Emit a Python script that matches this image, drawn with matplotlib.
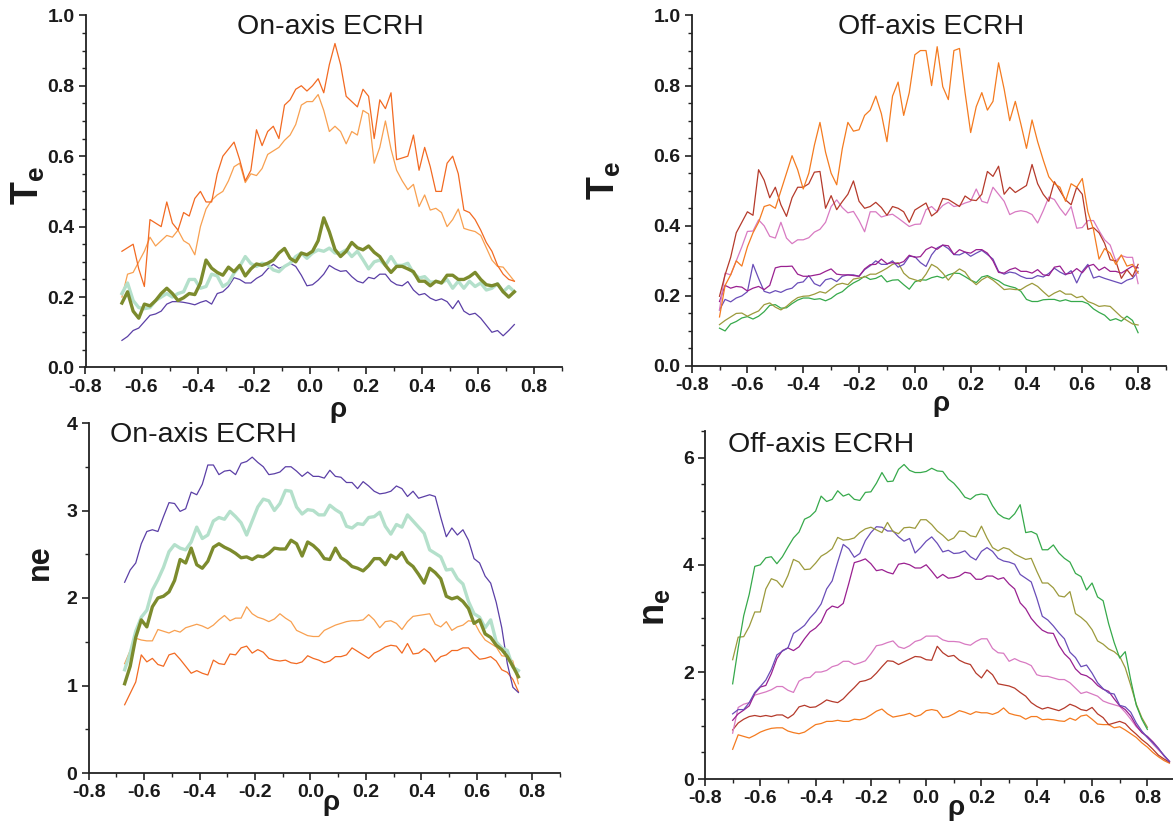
import numpy as np
import matplotlib
matplotlib.use("Agg")
import matplotlib.pyplot as plt
from matplotlib.ticker import MultipleLocator, FormatStrFormatter, FixedLocator

plt.rcParams['font.family'] = ['Liberation Sans', 'DejaVu Sans']
plt.rcParams['axes.unicode_minus'] = False
plt.rcParams['mathtext.fontset'] = 'custom'
plt.rcParams['mathtext.bf'] = 'Liberation Sans:bold'
plt.rcParams['mathtext.rm'] = 'Liberation Sans'

# ---------------- data ----------------
# Panel 1: Te, on-axis ECRH  (rho from -0.67 to 0.73, step 0.02)
p1_rho0, p1_step = -0.67, 0.02
te_on_orange_dark = [0.33,0.34,0.35,0.28,0.23,0.42,0.41,0.40,0.47,0.41,
    0.39,0.44,0.43,0.48,0.50,0.47,0.47,0.55,0.60,0.62,
    0.64,0.59,0.53,0.56,0.675,0.63,0.67,0.685,0.65,0.745,
    0.76,0.79,0.80,0.785,0.80,0.82,0.78,0.86,0.92,0.86,
    0.77,0.755,0.74,0.79,0.77,0.65,0.76,0.735,0.78,0.59,
    0.595,0.60,0.66,0.56,0.625,0.57,0.50,0.50,0.58,0.60,
    0.55,0.447,0.44,0.42,0.39,0.355,0.33,0.29,0.265,0.25,0.245]
te_on_orange_light = [0.20,0.265,0.27,0.30,0.33,0.37,0.345,0.36,0.375,0.37,
    0.39,0.36,0.35,0.32,0.40,0.45,0.475,0.49,0.50,0.53,
    0.57,0.58,0.525,0.55,0.545,0.565,0.605,0.615,0.625,0.645,
    0.66,0.69,0.745,0.755,0.755,0.775,0.73,0.67,0.685,0.67,
    0.635,0.67,0.66,0.73,0.72,0.58,0.625,0.70,0.62,0.56,
    0.53,0.505,0.52,0.457,0.49,0.447,0.452,0.44,0.40,0.42,
    0.45,0.395,0.39,0.386,0.375,0.34,0.305,0.287,0.285,0.265,0.245]
te_on_purple = [0.077,0.088,0.105,0.112,0.13,0.148,0.152,0.16,0.18,0.187,
    0.187,0.185,0.182,0.178,0.185,0.19,0.18,0.21,0.215,0.23,
    0.255,0.25,0.24,0.24,0.253,0.262,0.28,0.293,0.282,0.287,
    0.296,0.287,0.262,0.232,0.235,0.248,0.265,0.29,0.28,0.273,
    0.275,0.258,0.245,0.24,0.256,0.252,0.265,0.265,0.245,0.235,
    0.232,0.244,0.22,0.206,0.21,0.197,0.19,0.195,0.187,0.167,
    0.19,0.16,0.15,0.154,0.14,0.12,0.10,0.105,0.09,0.105,0.122]
te_on_mint = [0.21,0.24,0.19,0.17,0.167,0.17,0.19,0.20,0.21,0.20,
    0.21,0.215,0.25,0.25,0.225,0.23,0.265,0.26,0.23,0.24,
    0.268,0.287,0.315,0.295,0.287,0.296,0.292,0.277,0.272,0.287,
    0.296,0.315,0.325,0.31,0.325,0.334,0.33,0.339,0.325,0.325,
    0.334,0.315,0.33,0.306,0.28,0.30,0.305,0.29,0.315,0.29,
    0.29,0.296,0.268,0.254,0.258,0.242,0.244,0.24,0.25,0.225,
    0.245,0.225,0.245,0.23,0.24,0.22,0.225,0.238,0.215,0.23,0.215]
te_on_olive = [0.183,0.215,0.16,0.14,0.18,0.175,0.19,0.21,0.225,0.21,
    0.19,0.198,0.21,0.207,0.24,0.305,0.282,0.27,0.262,0.285,
    0.272,0.29,0.26,0.28,0.294,0.29,0.296,0.305,0.325,0.338,
    0.31,0.30,0.325,0.32,0.33,0.36,0.425,0.385,0.335,0.315,
    0.33,0.355,0.34,0.334,0.345,0.327,0.315,0.29,0.27,0.287,
    0.287,0.28,0.272,0.245,0.245,0.232,0.245,0.24,0.262,0.262,
    0.25,0.25,0.258,0.27,0.25,0.235,0.232,0.237,0.215,0.20,0.215]

# Panel 2: Te, off-axis ECRH (rho from -0.70 to 0.80, step 0.02)
p2_rho0, p2_step = -0.70, 0.02
te_off_orange = [0.14,0.23,0.26,0.30,0.285,0.34,0.38,0.41,0.455,0.46,
    0.45,0.50,0.55,0.60,0.56,0.505,0.55,0.63,0.695,0.61,
    0.55,0.517,0.62,0.695,0.67,0.674,0.715,0.73,0.77,0.72,
    0.64,0.77,0.81,0.715,0.78,0.888,0.90,0.90,0.80,0.911,
    0.797,0.76,0.90,0.906,0.78,0.666,0.74,0.78,0.73,0.755,
    0.865,0.79,0.70,0.755,0.69,0.621,0.702,0.64,0.588,0.54,
    0.52,0.51,0.47,0.52,0.51,0.535,0.44,0.39,0.305,0.335,
    0.322,0.29,0.317,0.285,0.29,0.265]
te_off_brick = [0.199,0.26,0.31,0.38,0.41,0.44,0.43,0.56,0.53,0.48,
    0.51,0.46,0.427,0.48,0.51,0.51,0.52,0.553,0.555,0.45,
    0.486,0.446,0.469,0.49,0.528,0.47,0.45,0.455,0.467,0.452,
    0.43,0.455,0.45,0.44,0.41,0.445,0.455,0.465,0.428,0.44,
    0.478,0.475,0.465,0.455,0.485,0.474,0.472,0.49,0.555,0.541,
    0.57,0.49,0.51,0.495,0.505,0.515,0.575,0.52,0.49,0.47,
    0.526,0.50,0.474,0.46,0.51,0.49,0.39,0.395,0.38,0.35,
    0.303,0.30,0.25,0.275,0.255,0.29]
te_off_pink = [0.16,0.265,0.26,0.30,0.34,0.384,0.385,0.417,0.40,0.37,
    0.365,0.41,0.365,0.349,0.36,0.36,0.366,0.382,0.39,0.41,
    0.455,0.474,0.452,0.437,0.441,0.415,0.383,0.44,0.44,0.425,
    0.43,0.433,0.422,0.41,0.398,0.404,0.405,0.446,0.455,0.44,
    0.458,0.467,0.455,0.458,0.465,0.47,0.505,0.47,0.465,0.51,
    0.49,0.47,0.432,0.44,0.443,0.44,0.432,0.408,0.443,0.482,
    0.475,0.45,0.43,0.455,0.393,0.395,0.415,0.415,0.386,0.36,
    0.345,0.30,0.315,0.31,0.31,0.235]
te_off_blue = [0.16,0.19,0.183,0.194,0.20,0.212,0.29,0.25,0.213,0.208,
    0.215,0.21,0.218,0.222,0.237,0.24,0.258,0.235,0.228,0.246,
    0.25,0.241,0.256,0.26,0.26,0.256,0.275,0.286,0.30,0.29,
    0.29,0.30,0.282,0.29,0.313,0.312,0.295,0.284,0.317,0.337,
    0.345,0.335,0.318,0.317,0.325,0.313,0.322,0.33,0.318,0.305,
    0.27,0.262,0.268,0.265,0.256,0.25,0.25,0.258,0.254,0.264,
    0.279,0.268,0.26,0.272,0.237,0.27,0.29,0.251,0.256,0.25,
    0.245,0.24,0.235,0.245,0.25,0.27]
te_off_magenta = [0.184,0.23,0.222,0.227,0.225,0.214,0.222,0.227,0.218,0.23,
    0.28,0.284,0.284,0.285,0.262,0.256,0.256,0.259,0.262,0.27,
    0.277,0.262,0.26,0.26,0.258,0.256,0.277,0.289,0.29,0.305,
    0.292,0.295,0.292,0.298,0.316,0.31,0.312,0.332,0.34,0.333,
    0.345,0.343,0.318,0.332,0.325,0.322,0.332,0.332,0.322,0.30,
    0.267,0.265,0.275,0.28,0.27,0.27,0.265,0.275,0.26,0.258,
    0.282,0.285,0.262,0.265,0.278,0.266,0.285,0.29,0.273,0.282,
    0.27,0.27,0.265,0.275,0.285,0.28]
te_off_olive = [0.118,0.13,0.14,0.15,0.151,0.142,0.15,0.157,0.175,0.18,
    0.168,0.16,0.17,0.184,0.195,0.199,0.20,0.205,0.212,0.208,
    0.22,0.232,0.236,0.232,0.248,0.251,0.254,0.262,0.262,0.27,
    0.279,0.29,0.295,0.265,0.251,0.246,0.241,0.262,0.29,0.281,
    0.265,0.245,0.265,0.277,0.268,0.246,0.232,0.246,0.255,0.245,
    0.232,0.218,0.22,0.218,0.218,0.228,0.236,0.227,0.212,0.198,
    0.208,0.215,0.205,0.205,0.195,0.199,0.184,0.178,0.17,0.172,
    0.17,0.155,0.14,0.13,0.12,0.117]
te_off_green = [0.108,0.10,0.12,0.127,0.137,0.141,0.134,0.142,0.155,0.173,
    0.175,0.165,0.166,0.178,0.188,0.194,0.194,0.19,0.192,0.186,
    0.193,0.205,0.212,0.226,0.237,0.245,0.256,0.247,0.25,0.258,
    0.24,0.245,0.246,0.232,0.219,0.24,0.246,0.245,0.252,0.256,
    0.251,0.26,0.265,0.264,0.255,0.245,0.238,0.254,0.258,0.25,
    0.243,0.232,0.227,0.223,0.213,0.19,0.184,0.184,0.189,0.19,
    0.19,0.185,0.189,0.184,0.184,0.184,0.178,0.163,0.153,0.145,
    0.13,0.135,0.128,0.142,0.13,0.095]

# Panel 3: ne, on-axis ECRH (rho from -0.67 to 0.75, step 0.02)
p3_rho0, p3_step = -0.67, 0.02
ne_on_purple = [2.18,2.32,2.40,2.62,2.76,2.78,2.76,2.93,3.09,3.08,
    2.99,3.02,3.21,3.18,3.30,3.52,3.52,3.41,3.45,3.46,
    3.41,3.54,3.56,3.61,3.55,3.50,3.41,3.42,3.44,3.50,
    3.50,3.45,3.39,3.44,3.39,3.39,3.37,3.46,3.39,3.38,
    3.32,3.32,3.25,3.33,3.28,3.22,3.19,3.20,3.22,3.28,
    3.25,3.16,3.22,3.14,3.16,3.18,3.16,2.92,2.70,2.80,
    2.72,2.78,2.66,2.45,2.40,2.25,2.17,1.95,1.66,1.25,0.98,0.92]
ne_on_mint = [1.18,1.37,1.62,1.78,1.86,2.09,2.21,2.35,2.53,2.61,
    2.57,2.55,2.64,2.81,2.68,2.72,2.88,2.92,2.90,2.99,
    2.93,2.86,2.72,2.88,3.04,3.13,3.11,3.00,3.08,3.23,
    3.22,3.04,2.96,3.01,3.00,2.95,2.95,3.06,3.01,2.97,
    2.82,2.80,2.85,2.84,2.92,2.93,2.98,2.82,2.73,2.84,
    2.81,2.95,2.88,2.81,2.74,2.55,2.51,2.47,2.32,2.33,
    2.22,2.16,1.96,1.82,1.78,1.66,1.75,1.50,1.43,1.40,1.21,1.17]
ne_on_olive = [1.02,1.22,1.55,1.75,1.67,1.90,2.00,2.02,2.07,2.20,
    2.44,2.40,2.57,2.38,2.34,2.42,2.58,2.62,2.58,2.55,
    2.51,2.46,2.47,2.44,2.48,2.47,2.51,2.57,2.56,2.56,
    2.66,2.62,2.48,2.64,2.60,2.54,2.45,2.44,2.57,2.46,
    2.42,2.36,2.34,2.31,2.37,2.45,2.45,2.38,2.49,2.45,
    2.52,2.41,2.36,2.27,2.17,2.34,2.29,2.22,2.02,1.99,
    2.01,1.96,1.88,1.71,1.75,1.59,1.55,1.46,1.41,1.33,1.22,1.10]
ne_on_orange_light = [1.25,1.40,1.54,1.52,1.51,1.51,1.64,1.62,1.60,1.63,
    1.61,1.66,1.68,1.70,1.68,1.65,1.69,1.75,1.80,1.74,
    1.77,1.77,1.90,1.82,1.78,1.76,1.73,1.76,1.82,1.77,
    1.73,1.63,1.60,1.57,1.56,1.56,1.63,1.66,1.69,1.71,
    1.73,1.74,1.74,1.75,1.81,1.75,1.66,1.73,1.74,1.71,
    1.64,1.73,1.79,1.80,1.81,1.82,1.70,1.67,1.73,1.63,
    1.67,1.69,1.74,1.73,1.61,1.52,1.48,1.44,1.34,1.33,1.28,1.02]
ne_on_orange_dark = [0.78,0.91,1.04,1.35,1.27,1.31,1.24,1.22,1.35,1.37,
    1.30,1.22,1.14,1.17,1.14,1.12,1.29,1.25,1.24,1.36,
    1.35,1.43,1.45,1.37,1.41,1.38,1.31,1.29,1.28,1.29,
    1.26,1.25,1.27,1.34,1.31,1.29,1.26,1.28,1.33,1.33,
    1.35,1.43,1.39,1.35,1.31,1.37,1.40,1.44,1.46,1.45,
    1.37,1.48,1.36,1.37,1.42,1.37,1.27,1.33,1.35,1.40,
    1.40,1.43,1.43,1.36,1.30,1.31,1.33,1.28,1.18,1.15,1.07,0.93]

# Panel 4: ne, off-axis ECRH (rho from -0.70, step 0.02)
p4_rho0, p4_step = -0.70, 0.02
ne_off_green = [1.78,2.45,3.05,3.45,3.97,4.00,4.13,4.15,4.02,4.15,
    4.33,4.50,4.61,4.85,4.90,5.00,5.28,5.18,5.22,5.38,
    5.28,5.32,5.22,5.20,5.35,5.36,5.52,5.72,5.55,5.56,
    5.78,5.87,5.76,5.72,5.72,5.74,5.80,5.75,5.74,5.60,
    5.52,5.40,5.26,5.22,5.30,5.32,5.30,5.10,4.95,4.88,
    4.85,4.95,5.12,4.60,4.62,4.57,4.28,4.28,4.37,4.22,
    4.12,4.05,3.84,3.78,3.53,3.66,3.40,3.33,2.90,2.55,
    2.26,2.38,1.85,1.38,1.12,0.93]
ne_off_olive = [2.23,2.65,2.66,2.85,3.12,3.12,3.55,3.74,3.70,3.58,
    3.80,4.10,4.05,3.91,3.92,4.03,4.16,4.22,4.30,4.51,
    4.46,4.47,4.50,4.60,4.67,4.70,4.65,4.60,4.79,4.62,
    4.58,4.69,4.70,4.68,4.84,4.84,4.75,4.63,4.55,4.45,
    4.50,4.63,4.62,4.54,4.52,4.72,4.50,4.32,4.26,4.32,
    4.29,4.20,4.15,4.10,4.12,3.88,3.66,3.66,3.57,3.42,
    3.40,3.50,3.09,3.02,2.93,2.79,2.58,2.52,2.43,2.38,
    2.29,2.08,1.75,1.40,1.15,0.97]
ne_off_blue = [1.22,1.30,1.30,1.43,1.62,1.73,1.85,2.05,2.32,2.39,
    2.45,2.72,2.79,2.87,3.01,3.12,3.27,3.55,3.70,4.05,
    4.38,4.30,4.14,4.21,4.45,4.60,4.71,4.70,4.63,4.63,
    4.52,4.44,4.49,4.22,4.32,4.44,4.52,4.40,4.24,4.27,
    4.21,4.22,4.26,4.15,4.09,4.25,4.32,4.25,4.12,4.07,
    4.05,4.01,3.82,3.75,3.68,3.38,3.04,2.97,2.86,2.73,
    2.62,2.37,2.27,2.10,2.13,1.98,1.80,1.69,1.61,1.59,
    1.38,1.35,1.25,1.05,0.90,0.78,0.68,0.57,0.45,0.33]
ne_off_magenta = [1.10,1.22,1.29,1.37,1.60,1.72,1.75,1.97,2.25,2.40,
    2.45,2.40,2.47,2.62,2.75,2.82,2.93,3.15,3.23,3.20,
    3.28,3.65,4.04,4.07,4.11,4.02,3.89,3.91,3.86,3.83,
    4.01,4.03,4.00,3.94,3.94,4.00,3.88,3.75,3.82,3.75,
    3.76,3.79,3.86,3.84,3.73,3.73,3.79,3.79,3.73,3.76,
    3.64,3.55,3.29,3.18,3.00,2.88,2.78,2.73,2.72,2.50,
    2.34,2.24,2.06,1.96,1.93,1.86,1.75,1.68,1.64,1.50,
    1.37,1.30,1.18,1.00,0.87,0.80,0.70,0.58,0.44,0.33]
ne_off_pink = [0.86,1.34,1.40,1.43,1.57,1.60,1.63,1.67,1.73,1.73,
    1.66,1.62,1.83,1.89,1.90,2.00,2.00,2.03,2.10,2.13,
    2.20,2.20,2.14,2.17,2.21,2.34,2.49,2.51,2.55,2.58,
    2.47,2.44,2.49,2.57,2.60,2.67,2.67,2.67,2.60,2.57,
    2.57,2.56,2.52,2.50,2.57,2.62,2.62,2.44,2.36,2.35,
    2.20,2.25,2.20,2.17,2.12,1.95,1.92,1.92,1.89,1.86,
    1.86,1.80,1.70,1.60,1.63,1.59,1.55,1.46,1.42,1.39,
    1.36,1.25,1.12,0.98,0.88,0.78,0.66,0.55,0.44,0.34]
ne_off_brick = [0.92,1.05,1.12,1.17,1.19,1.17,1.19,1.17,1.20,1.20,
    1.14,1.21,1.35,1.38,1.34,1.35,1.41,1.48,1.45,1.43,
    1.50,1.61,1.71,1.82,1.84,1.88,1.98,2.10,2.21,2.20,
    2.14,2.19,2.24,2.29,2.28,2.23,2.22,2.48,2.36,2.29,
    2.31,2.22,2.17,2.14,1.98,1.89,2.04,1.95,1.78,1.76,
    1.74,1.70,1.62,1.55,1.43,1.36,1.31,1.34,1.31,1.28,
    1.33,1.40,1.36,1.30,1.28,1.34,1.22,1.15,1.02,1.05,
    1.08,1.04,0.93,0.84,0.74,0.66,0.56,0.45,0.38,0.32]
ne_off_orange = [0.56,0.83,0.80,0.77,0.82,0.88,0.92,0.95,0.96,0.96,
    0.90,0.87,0.85,0.88,0.95,1.02,1.04,1.08,1.08,1.10,
    1.08,1.08,1.12,1.11,1.14,1.20,1.27,1.31,1.22,1.16,
    1.18,1.20,1.23,1.17,1.20,1.28,1.30,1.28,1.15,1.17,
    1.22,1.28,1.25,1.21,1.26,1.24,1.24,1.21,1.25,1.33,
    1.23,1.20,1.18,1.12,1.17,1.17,1.11,1.12,1.11,1.09,
    1.08,1.14,1.10,1.18,1.20,1.12,1.03,1.02,1.02,0.96,
    0.98,0.92,0.85,0.78,0.68,0.60,0.50,0.42,0.35,0.30]

titles = ["On-axis ECRH", "Off-axis ECRH", "On-axis ECRH", "Off-axis ECRH"]
xticks = [-0.8, -0.6, -0.4, -0.2, 0.0, 0.2, 0.4, 0.6, 0.8]

# ---------------- colours ----------------
C_ORANGE_D = '#F26A22'
C_ORANGE_L = '#F8A050'
C_PURPLE = '#5B3FA6'
C_MINT = '#B4E0CB'
C_OLIVE = '#7C8B2D'
C_OFF_ORANGE = '#F47B20'
C_BRICK = '#B53A2B'
C_PINK = '#D87AC2'
C_BLUE = '#6A4DB8'
C_MAGENTA = '#9A2090'
C_OLIVE2 = '#9C9A3C'
C_GREEN = '#36A94B'

W, H = 1173, 826
fig = plt.figure(figsize=(W/100, H/100), dpi=100)

def px_rect(l, r, t, b):
    return [l/W, 1 - b/H, (r - l)/W, (b - t)/H]

ax1 = fig.add_axes(px_rect(85.5, 562, 15.3, 367.5))
ax2 = fig.add_axes(px_rect(691.6, 1166, 15.5, 366))
ax3 = fig.add_axes(px_rect(88.6, 560, 423, 773))
ax4 = fig.add_axes(px_rect(705, 1175, 430.7, 779.3))

def rho(start, step, vals):
    return start + step*np.arange(len(vals))

thin = 0.9
thick = 2.4

# panel 1
for vals, c, lw in [(te_on_orange_light, C_ORANGE_L, thin), (te_on_orange_dark, C_ORANGE_D, thin),
                    (te_on_purple, C_PURPLE, thin), (te_on_mint, C_MINT, thick),
                    (te_on_olive, C_OLIVE, thick)]:
    ax1.plot(rho(p1_rho0, p1_step, vals), vals, color=c, lw=lw)
# panel 2
for vals, c in [(te_off_green, C_GREEN), (te_off_olive, C_OLIVE2), (te_off_blue, C_BLUE),
                (te_off_magenta, C_MAGENTA), (te_off_pink, C_PINK), (te_off_brick, C_BRICK),
                (te_off_orange, C_OFF_ORANGE)]:
    ax2.plot(rho(p2_rho0, p2_step, vals), vals, color=c, lw=thin)
# panel 3
for vals, c, lw in [(ne_on_orange_dark, C_ORANGE_D, thin), (ne_on_orange_light, C_ORANGE_L, thin),
                    (ne_on_purple, C_PURPLE, thin), (ne_on_mint, C_MINT, thick),
                    (ne_on_olive, C_OLIVE, thick)]:
    ax3.plot(rho(p3_rho0, p3_step, vals), vals, color=c, lw=lw)
# panel 4
for vals, c in [(ne_off_orange, C_OFF_ORANGE), (ne_off_brick, C_BRICK), (ne_off_pink, C_PINK),
                (ne_off_magenta, C_MAGENTA), (ne_off_blue, C_BLUE), (ne_off_olive, C_OLIVE2),
                (ne_off_green, C_GREEN)]:
    ax4.plot(rho(p4_rho0, p4_step, vals), vals, color=c, lw=thin)

def style(ax, ylim, ymaj, ymin, yfmt):
    ax.set_xlim(-0.8, 0.9)
    ax.set_ylim(*ylim)
    for s in ['top', 'right']:
        ax.spines[s].set_visible(False)
    for s in ['left', 'bottom']:
        ax.spines[s].set_linewidth(1.3)
        ax.spines[s].set_color('#222222')
    ax.xaxis.set_major_locator(FixedLocator(xticks))
    ax.xaxis.set_minor_locator(MultipleLocator(0.1))
    ax.xaxis.set_major_formatter(FormatStrFormatter('%.1f'))
    ax.yaxis.set_major_locator(MultipleLocator(ymaj))
    ax.yaxis.set_minor_locator(MultipleLocator(ymin))
    ax.yaxis.set_major_formatter(FormatStrFormatter(yfmt))
    ax.tick_params(which='major', direction='out', length=5, width=1.2, color='#222222',
                   labelsize=14, pad=3)
    ax.tick_params(which='minor', direction='out', length=3, width=1.0, color='#222222')
    for lab in ax.get_xticklabels() + ax.get_yticklabels():
        lab.set_fontweight('bold')
        lab.set_color('#1a1a1a')

style(ax1, (0, 1.0), 0.2, 0.05, '%.1f')
style(ax2, (0, 1.0), 0.2, 0.05, '%.1f')
style(ax3, (0, 4.0), 1, 0.5, '%d')
style(ax4, (0, 6.5), 2, 0.5, '%d')

def ftext(x, y, s, **kw):
    fig.text(x/W, 1 - y/H, s, **kw)

tkw = dict(fontsize=20.5, ha='center', va='center', color='#1a1a1a')
ftext(330, 27, titles[0], **tkw)
ftext(931, 27.5, titles[1], **tkw)
ftext(203, 435, titles[2], **tkw)
ftext(821.5, 445, titles[3], **tkw)

rkw = dict(fontsize=20, fontweight='bold', ha='center', va='center', color='#1a1a1a')
ftext(338, 410, 'ρ', **rkw)
ftext(941.5, 404, 'ρ', **rkw)
ftext(331, 803, 'ρ', **rkw)
ftext(956, 808, 'ρ', **rkw)

lkw = dict(rotation=90, ha='center', va='center', color='#1a1a1a')
ftext(28, 186, r'$\mathbf{T_e}$', fontsize=27, **lkw)
ftext(604, 181, r'$\mathbf{T_e}$', fontsize=27, **lkw)
ftext(40, 562, 'ne', fontsize=22, fontweight='bold', **lkw)
ftext(654, 607, r'$\mathbf{n_e}$', fontsize=26, **lkw)

fig.savefig('out.png', dpi=100)
